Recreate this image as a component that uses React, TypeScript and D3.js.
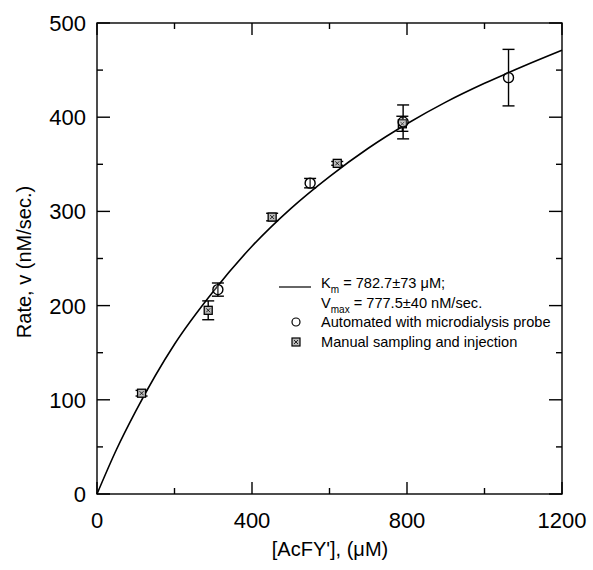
import React from "react";
import * as d3 from "d3";

const W = 593, H = 570;
const M = { left: 97, right: 562, top: 23, bottom: 494 };

// Automated with microdialysis probe (circles)
const autoX = [312, 550, 790, 1062];
const autoY = [217, 330, 395, 442];
const autoErr = [7, 5, 18, 30];

// Manual sampling and injection (squares)
const manX = [115, 287, 452, 620, 788];
const manY = [107, 195, 294, 351, 393];
const manErr = [3, 10, 4, 2, 8];

// Fitted curve
const fitX = [0, 50, 100, 200, 300, 400, 500, 600, 700, 800, 900, 1000, 1100, 1200];
const fitY = [0, 47, 88, 159, 215, 263, 303, 337, 367, 393, 416, 436, 454, 471];

const xMajor = [0, 400, 800, 1200];
const xMinor = [200, 600, 1000];
const yMajor = [0, 100, 200, 300, 400, 500];
const yMinor = [50, 150, 250, 350, 450];

export default function App() {
  const x = d3.scaleLinear().domain([0, 1200]).range([M.left, M.right]);
  const y = d3.scaleLinear().domain([0, 500]).range([M.bottom, M.top]);
  const line = d3
    .line<number>()
    .x((_, i) => x(fitX[i]))
    .y((d) => y(d))
    .curve(d3.curveMonotoneX);
  const font = "Liberation Sans, Arial, sans-serif";
  const cap = 6;
  const sq = 4;

  return (
    <svg width={W} height={H} style={{ position: "absolute", left: 0, top: 0, background: "#fff" }}>
      <g stroke="#000" strokeWidth={1.4} fill="none">
        <rect x={M.left} y={M.top} width={M.right - M.left} height={M.bottom - M.top} />
        {xMajor.map((v) => (
          <g key={"xM" + v}>
            <line x1={x(v)} x2={x(v)} y1={M.bottom} y2={M.bottom - 12} />
            <line x1={x(v)} x2={x(v)} y1={M.top} y2={M.top + 12} />
          </g>
        ))}
        {xMinor.map((v) => (
          <g key={"xm" + v}>
            <line x1={x(v)} x2={x(v)} y1={M.bottom} y2={M.bottom - 6} />
            <line x1={x(v)} x2={x(v)} y1={M.top} y2={M.top + 6} />
          </g>
        ))}
        {yMajor.map((v) => (
          <g key={"yM" + v}>
            <line x1={M.left} x2={M.left + 13} y1={y(v)} y2={y(v)} />
            <line x1={M.right} x2={M.right - 13} y1={y(v)} y2={y(v)} />
          </g>
        ))}
        {yMinor.map((v) => (
          <g key={"ym" + v}>
            <line x1={M.left} x2={M.left + 6} y1={y(v)} y2={y(v)} />
            <line x1={M.right} x2={M.right - 6} y1={y(v)} y2={y(v)} />
          </g>
        ))}
        <path d={line(fitY) || ""} strokeWidth={1.6} />
      </g>

      {/* error bars */}
      <g stroke="#000" strokeWidth={1.4}>
        {autoX.map((v, i) => (
          <g key={"ae" + i}>
            <line x1={x(v)} x2={x(v)} y1={y(autoY[i] - autoErr[i])} y2={y(autoY[i] + autoErr[i])} />
            <line x1={x(v) - cap} x2={x(v) + cap} y1={y(autoY[i] - autoErr[i])} y2={y(autoY[i] - autoErr[i])} />
            <line x1={x(v) - cap} x2={x(v) + cap} y1={y(autoY[i] + autoErr[i])} y2={y(autoY[i] + autoErr[i])} />
          </g>
        ))}
        {manX.map((v, i) => (
          <g key={"me" + i}>
            <line x1={x(v)} x2={x(v)} y1={y(manY[i] - manErr[i])} y2={y(manY[i] + manErr[i])} />
            <line x1={x(v) - cap} x2={x(v) + cap} y1={y(manY[i] - manErr[i])} y2={y(manY[i] - manErr[i])} />
            <line x1={x(v) - cap} x2={x(v) + cap} y1={y(manY[i] + manErr[i])} y2={y(manY[i] + manErr[i])} />
          </g>
        ))}
      </g>

      {/* markers */}
      {manX.map((v, i) => (
        <g key={"ms" + i} stroke="#000">
          <rect x={x(v) - sq} y={y(manY[i]) - sq} width={sq * 2} height={sq * 2} fill="#bbb" strokeWidth={1.3} />
          <path d={`M${x(v) - 2},${y(manY[i]) - 2}L${x(v) + 2},${y(manY[i]) + 2}M${x(v) + 2},${y(manY[i]) - 2}L${x(v) - 2},${y(manY[i]) + 2}`} strokeWidth={0.8} />
        </g>
      ))}
      {autoX.map((v, i) => (
        <circle key={"ac" + i} cx={x(v)} cy={y(autoY[i])} r={5} fill="#fff" fillOpacity={0.2} stroke="#000" strokeWidth={1.4} />
      ))}

      {/* tick labels */}
      <g fontFamily={font} fontSize={22} fill="#000">
        {xMajor.map((v) => (
          <text key={"xl" + v} x={x(v)} y={M.bottom + 34} textAnchor="middle">{v}</text>
        ))}
        {yMajor.map((v) => (
          <text key={"yl" + v} x={M.left - 11} y={y(v) + 8} textAnchor="end">{v}</text>
        ))}
      </g>

      <text x={330} y={556} fontFamily={font} fontSize={20} textAnchor="middle">[AcFY'], (μM)</text>
      <text transform="translate(31,262) rotate(-90)" fontFamily={font} fontSize={20} textAnchor="middle">Rate, v (nM/sec.)</text>

      {/* legend */}
      <g fontFamily={font} fontSize={14.6} fill="#000">
        <line x1={279} x2={311} y1={287} y2={287} stroke="#000" strokeWidth={1.2} />
        <text x={321} y={288}>K<tspan fontSize={10} dy={5}>m</tspan><tspan dy={-5}> = 782.7±73 μM;</tspan></text>
        <text x={321} y={308}>V<tspan fontSize={10} dy={5}>max</tspan><tspan dy={-5}> = 777.5±40 nM/sec.</tspan></text>
        <circle cx={296} cy={322} r={4} fill="none" stroke="#000" strokeWidth={1.2} />
        <text x={321} y={327}>Automated with microdialysis probe</text>
        <rect x={292} y={338} width={8} height={8} fill="#bbb" stroke="#000" strokeWidth={1.2} />
        <path d="M294,340L298,344M298,340L294,344" stroke="#000" strokeWidth={0.8} />
        <text x={321} y={347}>Manual sampling and injection</text>
      </g>
    </svg>
  );
}
